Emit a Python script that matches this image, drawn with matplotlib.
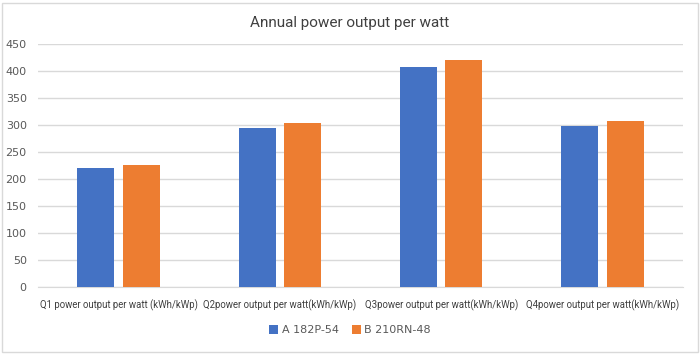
import numpy as np
import matplotlib
matplotlib.use('Agg')
import matplotlib.pyplot as plt
from matplotlib.patches import Rectangle

categories = ['Q1 power output per watt (kWh/kWp)',
              'Q2power output per watt(kWh/kWp)',
              'Q3power output per watt(kWh/kWp)',
              'Q4power output per watt(kWh/kWp)']
series_a = [220, 295, 407, 299]
series_b = [226, 304, 421, 308]
yticks = [0, 50, 100, 150, 200, 250, 300, 350, 400, 450]

fig = plt.figure(figsize=(7, 3.54), dpi=100)
ax = fig.add_axes([0.054, 0.189, 0.922, 0.687])

x = np.arange(len(categories))
w = 0.23
gap = 0.05
ax.bar(x - (w + gap) / 2, series_a, w, color='#4472C4', label='A 182P-54', zorder=3)
ax.bar(x + (w + gap) / 2, series_b, w, color='#ED7D31', label='B 210RN-48', zorder=3)

ax.set_xlim(-0.5, len(categories) - 0.5)
ax.set_ylim(0, 450)
ax.set_yticks(yticks)
ax.set_xticks(x)
ax.set_xticklabels(categories, fontsize=6.9, color='#404040',
                   family=['Roboto', 'DejaVu Sans'])
ax.tick_params(axis='y', labelsize=8, colors='#595959', length=0, pad=8)
ax.tick_params(axis='x', length=0, pad=9)
ax.yaxis.grid(True, color='#D9D9D9', linewidth=1, zorder=0)
for s in ['top', 'right', 'left']:
    ax.spines[s].set_visible(False)
ax.spines['bottom'].set_color('#D9D9D9')

fig.text(0.5, 0.935, 'Annual power output per watt', ha='center', va='center',
         fontsize=11, color='#404040', family=['Roboto', 'DejaVu Sans'])

leg = fig.legend(loc='center', bbox_to_anchor=(0.5, 0.067), ncol=2, frameon=False,
                 fontsize=8, handlelength=0.8, handleheight=0.8, handletextpad=0.3,
                 columnspacing=1.2)
for t in leg.get_texts():
    t.set_color('#595959')

fig.patches.append(Rectangle((0.003, 0.006), 0.994, 0.985, transform=fig.transFigure,
                             fill=False, edgecolor='#D9D9D9', linewidth=1))

fig.savefig('out.png', dpi=100)
